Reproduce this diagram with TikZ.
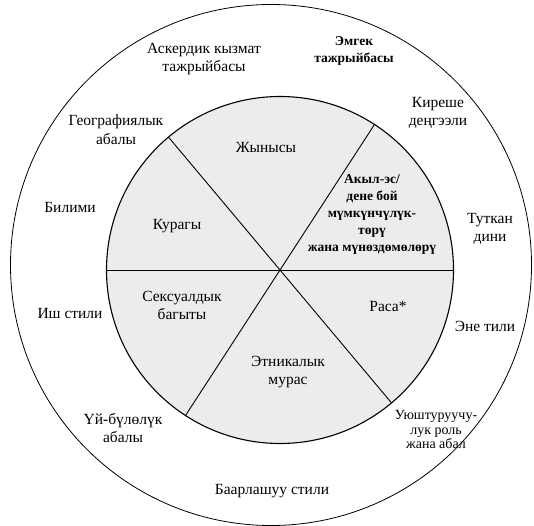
\documentclass[tikz,border=0pt]{standalone}
\usepackage{fontspec}
\setmainfont{Liberation Serif}
\usepackage{tikz}
\usetikzlibrary{calc}

\tikzset{
	lbl/.style={align=center, inner sep=0pt, font=\fontsize{15.5}{18.5}\selectfont},
	lblsmall/.style={align=center, inner sep=0pt, font=\fontsize{13.5}{17}\selectfont\bfseries},
	lblnarrow/.style={align=center, inner sep=0pt, font=\fontsize{14}{14.5}\selectfont},
}

\begin{document}
\begin{tikzpicture}[x=1pt, y=1pt]
		\useasboundingbox (0, 0) rectangle (534, 525);
		\coordinate (O) at (271, 260);
		\coordinate (C) at (280, 255);

		\draw[line width=0.8pt] (O) circle[radius=260.5];
		\filldraw[fill=gray!15, line width=1.1pt] (C) circle[radius=173.5];
		\foreach \a in {0, 57, 130}
		\draw[line width=0.9pt] ($(C) + (\a:173.5)$) -- ($(C) + (\a+180:173.5)$);

		% inner ring
		\node[lbl] (jynysy) at (266, 377) {Жынысы};
		\node[lbl] (kuragy) at (177, 298.5) {Курагы};
		\node[lblsmall] (akyl) at (372, 310.5) {Акыл-эс/\\дене бой\\мүмкүнчүлүк-\\төрү\\жана мүнөздөмөлөрү};
		\node[lbl] (seksual) at (182, 219.5) {Сексуалдык\\багыты};
		\node[lbl] (rasa) at (388, 218.5) {Раса*};
		\node[lbl] (etnik) at (288, 153) {Этникалык\\мурас};

		% outer ring
		\node[lbl] (asker) at (204, 466) {Аскердик кызмат\\тажрыйбасы};
		\node[lblsmall] (emgek) at (354, 474) {Эмгек\\тажрыйбасы};
		\node[lbl] (kireshe) at (438, 412) {Киреше\\деңгээли};
		\node[lbl] (geog) at (116, 395.5) {Географиялык\\абалы};
		\node[lbl] (bilimi) at (70, 317) {Билими};
		\node[lbl] (tutkan) at (490, 296) {Туткан\\дини};
		\node[lbl] (ish) at (70, 212) {Иш стили};
		\node[lbl] (ene) at (485, 199) {Эне тили};
		\node[lbl] (uibulo) at (123, 97) {Үй-бүлөлүк\\абалы};
		\node[lblnarrow] (uyush) at (436, 95.5) {Уюштуруучу-\\лук роль\\жана абал};
		\node[lbl] (baarl) at (272, 34) {Баарлашуу стили};
	\end{tikzpicture}
\end{document}
